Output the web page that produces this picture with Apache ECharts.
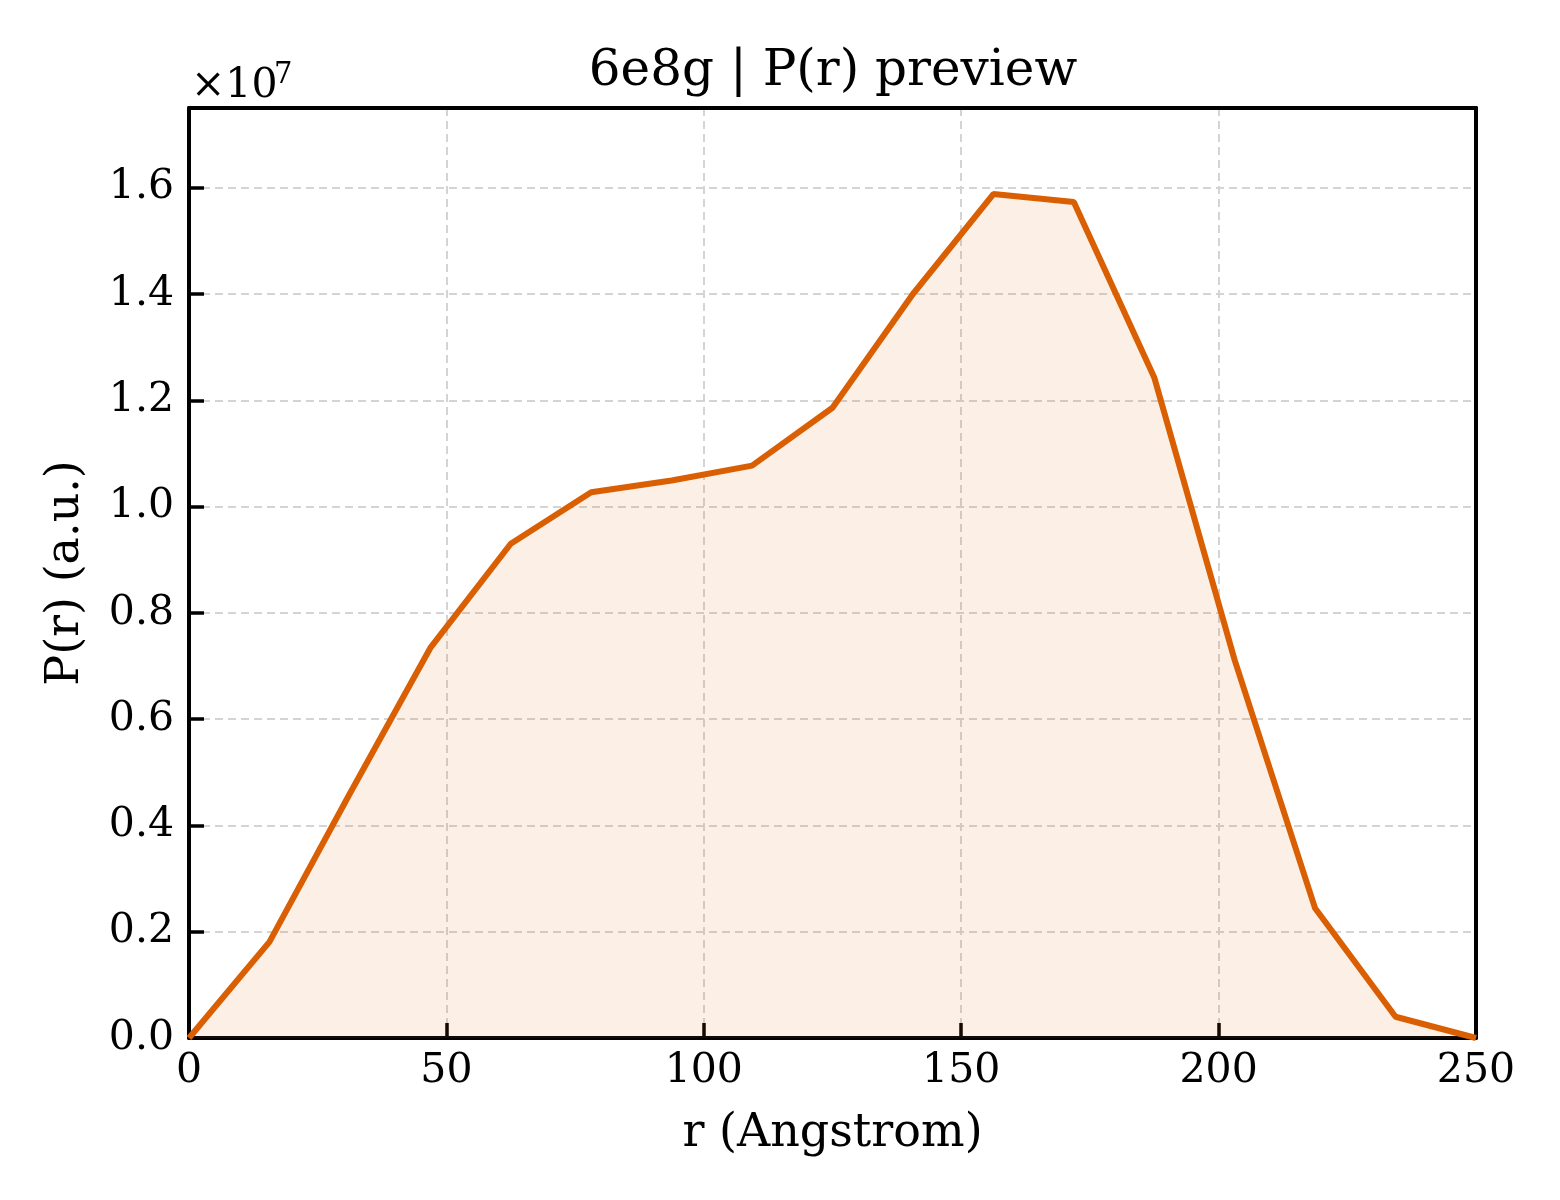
<!DOCTYPE html>
<html>
<head>
<meta charset="utf-8">
<script src="https://cdn.jsdelivr.net/npm/echarts@6/dist/echarts.min.js"></script>
<style>
  html, body { margin: 0; padding: 0; background: #fff; }
  #main { width: 1560px; height: 1200px; }
</style>
</head>
<body>
<div id="main"></div>
<script>
(function () {
    'use strict';

    var rValues = [0, 15.625, 31.25, 46.875, 62.5, 78.125, 93.75, 109.375, 125,
                   140.625, 156.25, 171.875, 187.5, 203.125, 218.75, 234.375, 250];
    var prValues = [0, 1810000, 4600000, 7340000, 9300000, 10270000, 10490000, 10770000, 11860000,
                    14000000, 15880000, 15730000, 12430000, 7110000, 2440000, 400000, 0];
    var xTicks = [0, 50, 100, 150, 200, 250];
    var yScale = 1e7;

    var FONT = 'DejaVu Serif';
    var lineColor = '#d95f02';

    var points = rValues.map(function (r, i) { return [r, prValues[i]]; });

    var myChart = echarts.init(document.getElementById('main'));

    var spine = { show: true, onZero: false, lineStyle: { color: '#000', width: 4 } };
    var grid = { show: true, lineStyle: { color: '#d4d4d4', width: 2, type: [8, 5] } };

    var option = {
        backgroundColor: '#fff',
        animation: false,
        title: {
            text: '6e8g | P(r) preview',
            left: 828,
            top: 42,
            textAlign: 'center',
            textStyle: { fontFamily: FONT, fontSize: 50, fontWeight: 'normal', color: '#000' }
        },
        graphic: [
            {
                type: 'text', left: 191, top: 66, silent: true,
                style: { text: '×10', fontFamily: FONT, fontSize: 41, fill: '#000' }
            },
            {
                type: 'text', left: 274, top: 61, silent: true,
                style: { text: '7', fontFamily: FONT, fontSize: 29, fill: '#000' }
            }
        ],
        grid: { left: 189, right: 84, top: 108, bottom: 162, containLabel: false },
        xAxis: [
            {
                type: 'value', position: 'bottom',
                min: xTicks[0], max: xTicks[xTicks.length - 1], interval: 50,
                name: 'r (Angstrom)', nameLocation: 'middle', nameGap: 73,
                nameTextStyle: { fontFamily: FONT, fontSize: 46, color: '#000' },
                axisLine: spine,
                axisTick: { show: true, inside: true, length: 15, lineStyle: { color: '#000', width: 3.5 } },
                axisLabel: { fontFamily: FONT, fontSize: 41, color: '#000', margin: 13 },
                splitLine: grid
            },
            {
                type: 'value', position: 'top',
                min: 0, max: 250, interval: 50,
                axisLine: spine, axisTick: { show: false }, axisLabel: { show: false }, splitLine: { show: false }
            }
        ],
        yAxis: [
            {
                type: 'value', position: 'left',
                min: 0, max: 1.75 * yScale, interval: 0.2 * yScale,
                name: 'P(r) (a.u.)', nameLocation: 'middle', nameGap: 100,
                nameTextStyle: { fontFamily: FONT, fontSize: 46, color: '#000' },
                axisLine: spine,
                axisTick: { show: true, inside: true, length: 15, lineStyle: { color: '#000', width: 3.5 } },
                axisLabel: {
                    fontFamily: FONT, fontSize: 41, color: '#000', margin: 15, showMaxLabel: false,
                    formatter: function (v) { return (v / yScale).toFixed(1); }
                },
                splitLine: grid
            },
            {
                type: 'value', position: 'right',
                min: 0, max: 1.75 * yScale,
                axisLine: spine, axisTick: { show: false }, axisLabel: { show: false }, splitLine: { show: false }
            }
        ],
        series: [
            {
                type: 'line',
                data: points,
                showSymbol: false,
                clip: true,
                lineStyle: { color: lineColor, width: 6 },
                areaStyle: { color: 'rgba(217,95,2,0.14)', origin: 'start' },
                z: 3
            }
        ]
    };

    myChart.setOption(option);
})();
</script>
</body>
</html>
